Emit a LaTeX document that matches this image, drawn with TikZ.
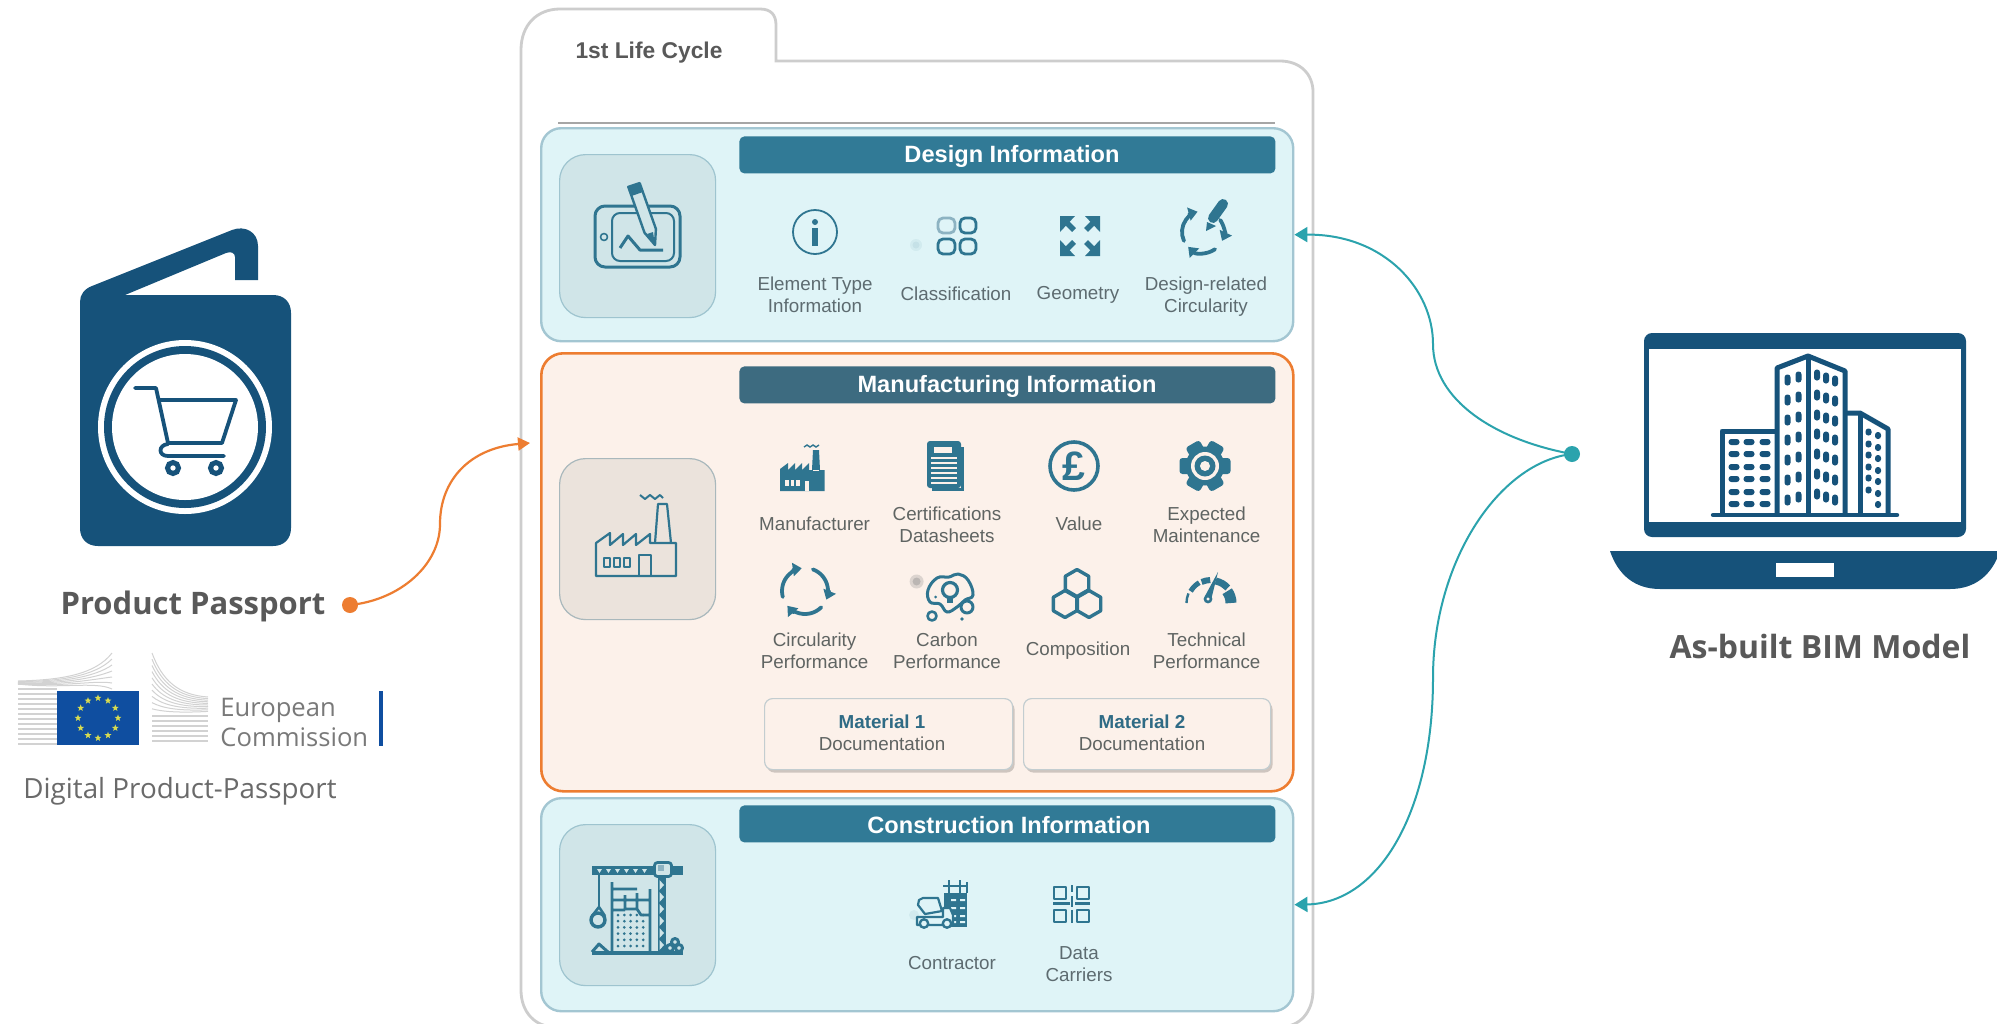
\documentclass[tikz,border=0pt]{standalone}
\usepackage{fontspec}
\setmainfont{Liberation Sans}
\newfontfamily\calfont{Carlito}
\newfontfamily\opfont{Open Sans}
\usetikzlibrary{arrows.meta,shadows,shapes.geometric}
\definecolor{pblue}{HTML}{16527A}
\definecolor{teal1}{HTML}{2F7590}
\definecolor{hdr}{HTML}{317A96}
\definecolor{hdrm}{HTML}{3D6B80}
\definecolor{panelb}{HTML}{DFF4F7}
\definecolor{panelbd}{HTML}{A3C6D2}
\definecolor{iconb}{HTML}{D0E5E8}
\definecolor{iconbd}{HTML}{9EC4CF}
\definecolor{orng}{HTML}{ED7D31}
\definecolor{panelo}{HTML}{FCF1EA}
\definecolor{icono}{HTML}{EBE3DC}
\definecolor{iconod}{HTML}{A9B8BC}
\definecolor{tealln}{HTML}{2BA3AD}
\definecolor{lab1}{HTML}{5D6B70}
\definecolor{lab2}{HTML}{5F6462}
\definecolor{gtxt}{HTML}{595959}
\definecolor{matt}{HTML}{2F6B85}
\definecolor{eublue}{HTML}{0F4EA0}
\definecolor{eustar}{HTML}{D8DC50}
\definecolor{eugray}{HTML}{D2D2D2}
\definecolor{frameg}{HTML}{CDCDCD}
\tikzset{
  panelB/.style={draw=panelbd,fill=panelb,line width=1.2pt,rounded corners=10pt},
  panelO/.style={draw=orng,fill=panelo,line width=1.3pt,rounded corners=11pt},
  iconB/.style={draw=iconbd,fill=iconb,line width=.6pt,rounded corners=13pt},
  iconO/.style={draw=iconod,fill=icono,line width=.6pt,rounded corners=13pt},
  hdrbox/.style={fill=#1,rounded corners=2.5pt},
  hdrtxt/.style={text=white,font=\fontsize{11.8}{13}\selectfont\bfseries},
  lab/.style={text=#1,font=\fontsize{9.4}{10.9}\selectfont,align=center,inner sep=0pt},
  matbox/.style={draw=iconod!70,fill=panelo,line width=.6pt,rounded corners=4pt,drop shadow={shadow xshift=1pt,shadow yshift=-1.5pt,opacity=.18,fill=black}},
  ic/.style={draw=teal1,line width=1pt,line join=round},
  tealarrow/.style={draw=tealln,line width=1pt,-{Triangle[length=6.5pt,width=7.5pt]}},
  orngarrow/.style={draw=orng,line width=1.1pt,-{Triangle[length=6pt,width=6.5pt]}},
  dotnode/.style={circle,fill=#1,inner sep=0pt,minimum size=8pt},
  bigtxt/.style={text=gtxt,font=\opfont\bfseries\fontsize{#1}{19}\selectfont,inner sep=0pt},
}
\newcommand{\pbox}[7]{\pgfmathsetmacro\pbw{(#4-#2)*0.5}\pgfmathsetmacro\pbh{(#5-#3)*0.5}\node[#6,anchor=north west,minimum width=\pbw pt,minimum height=\pbh pt,inner sep=0pt] (#1) at (#2,#3) {#7};}
\newcommand{\hexa}[3]{\draw[ic,line width=1.7pt,shift={(#1,#2)}] (30:#3) -- (90:#3) -- (150:#3) -- (210:#3) -- (270:#3) -- (330:#3) -- cycle;}
\newcommand{\rarc}[5]{\draw[ic,line width=1.9pt,line cap=round,-{Triangle[length=4.5pt,width=6.5pt]}] ([shift={(#3:#5)}]#1,#2) arc (#3:#4:#5);}
\begin{document}
\begin{tikzpicture}[x=0.5pt,y=-0.5pt]
\clip (0,0) rectangle (1997,1023);
\fill[white] (0,0) rectangle (1997,1023);

% ---------- outer frame
\draw[frameg,line width=1.4pt,fill=white] (521,990) -- (521,50) .. controls (521,25) and (537,9) .. (560,9) -- (760,9) .. controls (771,9) and (776,15) .. (776,25) -- (776,61) -- (1280,61) .. controls (1300,61) and (1313,74) .. (1313,92) -- (1313,990) .. controls (1313,1012) and (1300,1027) .. (1280,1027) -- (555,1027) .. controls (535,1027) and (521,1012) .. (521,990) -- cycle;
\node[text=gtxt,font=\fontsize{11.4}{13}\selectfont\bfseries,inner sep=0pt] (lc) at (649,52.5) {1st Life Cycle};
\draw[gray!70,line width=.7pt] (558,123) -- (1275,123);

% ---------- panels
\pbox{design}{540}{127}{1292}{340}{panelB}{}
\pbox{mfg}{540}{352}{1292}{790}{panelO}{}
\pbox{constr}{540}{797}{1292}{1010}{panelB}{}
\pbox{iconD}{559}{154}{715}{317}{iconB}{}
\pbox{iconM}{559}{458}{715}{619}{iconO}{}
\pbox{iconC}{559}{824}{715}{985}{iconB}{}
\pbox{hD}{739}{136}{1275}{173}{hdrbox=hdr}{}
\pbox{hM}{739}{366}{1275}{403}{hdrbox=hdrm}{}
\pbox{hC}{739}{805}{1275}{842}{hdrbox=hdr}{}
\node[hdrtxt] (tD) at (1012,156.5) {Design Information};
\node[hdrtxt] (tM) at (1007,386.5) {Manufacturing Information};
\node[hdrtxt] (tC) at (1009,825) {Construction Information};

% ---------- labels design
\node[lab=lab1] (l1) at (815,295) {Element Type\\Information};
\node[lab=lab1] (l2) at (956,294) {Classification};
\node[lab=lab1] (l3) at (1078,295) {Geometry};
\node[lab=lab1] (l4) at (1206,296.5) {Design-related\\Circularity};
% labels manufacturing
\node[lab=lab2] (m1) at (814.6,524) {Manufacturer};
\node[lab=lab2] (m2) at (947,525) {Certifications\\Datasheets};
\node[lab=lab2] (m3) at (1079,524) {Value};
\node[lab=lab2] (m4) at (1206.6,525) {Expected\\Maintenance};
\node[lab=lab2] (m5) at (814.6,651) {Circularity\\Performance};
\node[lab=lab2] (m6) at (947,651) {Carbon\\Performance};
\node[lab=lab2] (m7) at (1078,651) {Composition};
\node[lab=lab2] (m8) at (1206.6,651) {Technical\\Performance};
% material boxes
\pbox{mat1}{764}{698}{1012}{769}{matbox}{}
\pbox{mat2}{1023}{698}{1270}{769}{matbox}{}
\node[lab=lab2] (mt1) at (882,733) {\textcolor{matt}{\bfseries Material 1}\\Documentation};
\node[lab=lab2] (mt2) at (1142,733) {\textcolor{matt}{\bfseries Material 2}\\Documentation};
% labels construction
\node[lab=lab1] (c1) at (952,963) {Contractor};
\node[lab=lab1] (c2) at (1079,964) {Data\\Carriers};

% ---------- icon: tablet & pen
\draw[ic,line width=1.5pt,rounded corners=5pt] (595,206) rectangle (680,267);
\draw[ic,line width=1pt,rounded corners=4pt] (612,213) rectangle (674,261);
\draw[ic,line width=.8pt] (604,237) circle (3.5);
\draw[ic,line width=1.5pt] (620,248) -- (628,236) -- (640,250) -- (663,250);
\draw[ic,line width=1.2pt,fill=iconb] (655,245) -- (655.9,228.9) -- (639.7,183.1) -- (628.3,186.9) -- (644.5,232.7) -- cycle;
\fill[teal1] (655,245) -- (653,232) -- (647,234) -- cycle;
\fill[teal1] (639.7,183.1) -- (628.3,186.9) -- (631.5,196) -- (643,192) -- cycle;

% info
\draw[ic,line width=.9pt] (815,232) circle (22);
\fill[teal1] (815,222) circle (3);
\fill[teal1] (812,228) rectangle (818,246);
% classification
\draw[ic,draw=teal1!55,line width=1.4pt,rounded corners=2.5pt] (938,218) rectangle (955,233);
\draw[ic,line width=1.4pt,rounded corners=2.5pt] (960,218) rectangle (976,233);
\draw[ic,line width=1.4pt,rounded corners=2.5pt] (938,239) rectangle (955,254);
\draw[ic,line width=1.4pt,rounded corners=2.5pt] (960,239) rectangle (976,254);
\fill[teal1,opacity=.07] (916,245) circle (6);
\fill[teal1,opacity=.08] (916,245) circle (3.5);
% geometry
\foreach \sx/\sy in {1/1,-1/1,1/-1,-1/-1}{
\begin{scope}[shift={(1080,236)},xscale=\sx,yscale=\sy]
\fill[teal1] (20,20) -- (5,20) -- (20,4) -- cycle;
\draw[teal1,line width=2.8pt] (14,14) -- (6,6);
\end{scope}}
% design circularity
\rarc{1203}{232}{155}{255}{21}
\rarc{1203}{232}{-35}{25}{21}
\rarc{1203}{232}{55}{135}{21}
\draw[teal1,line width=5pt,line cap=round] (1213,218) -- (1223,204);
\fill[teal1] (1206,231) -- (1207,222) -- (1216,226) -- cycle;

% ---------- icon: big factory
\draw[ic,line width=1.1pt] (596,543) -- (610,533) -- (610,545) -- (623,534) -- (623,545) -- (636,534) -- (636,545) -- (650,534) -- (650,543) -- (676,543) -- (676,576) -- (596,576) -- cycle;
\draw[ic,line width=1.1pt] (655,543) -- (658,504) -- (667,504) -- (671,543);
\draw[ic,line width=1pt] (640,495) -- (645,499) -- (650,495) -- (655,499) -- (660,495) -- (663,498);
\foreach \x in {604,614,624}\draw[ic,line width=1pt] (\x,558) rectangle (\x+6,567);
\draw[ic,line width=1pt] (639,576) -- (639,555) -- (651,555) -- (651,576);

% small factory
\fill[teal1] (780,491) -- (780,469) -- (788,463) -- (788,470) -- (795,463) -- (795,470) -- (802,463) -- (802,470) -- (809,463) -- (809,470) -- (812,470) -- (813,450) -- (819,450) -- (820,470) -- (824.5,470) -- (824.5,491) -- cycle;
\draw[panelo,line width=.4pt] (813,470) -- (819,470);
\foreach \x in {785,790.5,796}\fill[panelo] (\x,480) rectangle (\x+3.5,486);
\fill[panelo] (805,481) rectangle (809,491);
\draw[teal1,line width=.7pt] (804,447) -- (807,445) -- (810,447) -- (813,445) -- (816,447) -- (819,445);

% doc
\fill[teal1] (932,447) rectangle (964,491);
\fill[panelo] (932,445) rectangle (961,487.5);
\fill[teal1,rounded corners=1.5pt] (927,441) rectangle (961,488);
\fill[panelo] (934,447) rectangle (952,453);
\foreach \y in {458,463,468,473,478,483}\draw[panelo,line width=.7pt] (931,\y) -- (957,\y);

% pound
\draw[ic,line width=1.8pt] (1074,466) circle (24);
\node[text=teal1,font=\fontsize{20.5}{22}\selectfont\bfseries,inner sep=0pt] (pound) at (1074,466) {£};

% gear
\fill[teal1] (1205,466) circle (19.5);
\foreach \a in {0,60,120}{
  \fill[teal1,rounded corners=1.5pt,rotate around={\a:(1205,466)}] (1179.5,458) rectangle (1230.5,474);
}
\fill[panelo] (1205,466) circle (14);
\fill[teal1] (1205,466) circle (10.5);
\fill[panelo] (1205,466) circle (5);

% circularity
\rarc{805}{591}{165}{262}{23}
\rarc{805}{591}{-70}{22}{23}
\rarc{805}{591}{45}{140}{23}

% carbon
\fill[gray,opacity=.25] (916.6,581.5) circle (7);
\fill[gray,opacity=.35] (916.6,581.5) circle (4);
\draw[ic,line width=1.5pt] plot[smooth cycle,tension=.7] coordinates {(937,578) (949,577) (958,574) (968,580) (973,595) (965,600) (957,607) (947,612) (940,604) (930,602) (928,590)};
\draw[ic,line width=1.6pt] (950,590) circle (7.5);
\fill[teal1] (947,598) rectangle (953,603);
\draw[ic,line width=1.5pt,fill=panelo] (967,607) circle (6);
\draw[ic,line width=1.3pt,fill=panelo] (932,616) circle (4.5);
\fill[teal1] (962,619) circle (1.8);
\fill[teal1] (935.5,597) circle (1.5);

% composition
\hexa{1077}{583}{13.5}
\hexa{1065}{604}{13.5}
\hexa{1089}{604}{13.5}

% gauge
\draw[teal1,line width=1.2pt] ([shift={(180:24.5)}]1211,603) arc (180:203:24.5);
\draw[teal1,line width=2.5pt] ([shift={(210:23.5)}]1211,603) arc (210:240:23.5);
\draw[teal1,line width=3pt] ([shift={(246:23)}]1211,603) arc (246:268:23);
\draw[teal1,line width=3.5pt] ([shift={(282:22.5)}]1211,603) arc (282:318:22.5);
\draw[teal1,line width=5.5pt] ([shift={(324:20)}]1211,603) arc (324:360:20);
\fill[teal1] (1205,596) -- (1218,572) -- (1211,600) -- cycle;
\draw[teal1,line width=1.3pt,fill=panelo] (1208,599) circle (3);

% ---------- icon: crane
\fill[teal1] (592,866) rectangle (683,875);
\foreach \x in {597,606,615,624,633,642}\fill[iconb] (\x,869) -- (\x+5,869) -- (\x+2.5,873) -- cycle;
\fill[teal1] (658,877) rectangle (666,952);
\foreach \y in {880,892,...,940}{
  \fill[iconb] (659.5,\y) -- (664,\y+5) -- (659.5,\y+10) -- cycle;
}
\draw[ic,line width=1.4pt,fill=iconb,rounded corners=1.5pt] (654.5,862.5) rectangle (671.5,876.5);
\fill[teal1!55] (658,865) rectangle (664,871);
\draw[ic,line width=1.3pt] (599,875) -- (599,907);
\draw[ic,line width=1.3pt] (599,907) -- (592,916) (599,907) -- (605,916);
\draw[ic,line width=1.7pt] (598,920) circle (7);
\draw[ic,line width=1.4pt] (612,952) -- (612,882) (612,889) -- (637,889) (612,900) -- (650,900) (650,952) -- (650,889) (625,895) -- (625,909) -- (637,909) -- (641,915) -- (650,915) (637,893) -- (637,909) (612,910) -- (625,910);
\foreach \y in {915,921.2,...,947}\foreach \x in {618,624.3,...,644}\fill[teal1] (\x,\y) circle (1.5);
\draw[ic,line width=1.6pt] (592,953) -- (683,953);
\draw[ic,line width=1.5pt] (592,952) -- (599,944) -- (608,952);
\draw[ic,line width=1.5pt] (675,942) circle (3.5);
\draw[ic,line width=1.5pt] (670,948) circle (3.5);
\draw[ic,line width=1.5pt] (679,948) circle (3.5);

% ---------- icon: truck
\fill[teal1] (944,893) rectangle (967,927);
\foreach \y in {899,907,915,921}\fill[panelb] (951,\y) rectangle (956,\y+2) (960,\y) rectangle (965,\y+2);
\draw[ic,line width=1.1pt] (949,880) -- (949,893) (960,880) -- (960,893) (967,882) -- (967,893) (943,886) -- (967,886);
\draw[ic,line width=1.1pt,fill=panelb] (919,900) -- (923,898) -- (938,898) -- (942,911) -- (925,914) -- (918,905) -- cycle;
\draw[ic,line width=1.1pt,fill=panelb] (917,917) -- (943,917) -- (943,908) -- (950,908) -- (953,915) -- (953,925) -- (917,925) -- cycle;
\draw[ic,line width=1.2pt,fill=panelb] (924,923.5) circle (4.2);
\draw[ic,line width=1.2pt,fill=panelb] (947,923.5) circle (4.2);
\fill[teal1,opacity=.08] (914,915) circle (5);

% ---------- icon: QR
\foreach \a/\b in {1054/887,1077/887,1054/910,1077/910}{
\draw[ic,line width=1.4pt] (\a,\b) rectangle (\a+12,\b+12);
}
\draw[ic,line width=1.4pt] (1072,885) -- (1072,892) (1072,896) -- (1072,907) (1075,903.5) -- (1090,903.5) (1053,903.5) -- (1070,903.5) (1072,910) -- (1072,923);

% ---------- passport icon
\fill[pblue] (80,302) .. controls (80,295) and (84,289) .. (92,286) -- (232,230) .. controls (245,225) and (258,232) .. (258,246) -- (258,280) -- (235,280) -- (235,257) .. controls (235,253) and (231,251) .. (226,253) -- (125,295) -- (273,295) .. controls (284,295) and (291,302) .. (291,313) -- (291,528) .. controls (291,539) and (284,546) .. (273,546) -- (98,546) .. controls (87,546) and (80,539) .. (80,528) -- cycle;
\fill[white] (185,427) circle (87);
\fill[pblue] (185,427) circle (81);
\fill[white] (185,427) circle (73);
\draw[pblue,line width=1.9pt,line join=round,line cap=round] (135,388) -- (156,388) -- (168,443) -- (222,443) -- (236,400) -- (159,400);
\draw[pblue,line width=1.9pt,line cap=round] (168,444) .. controls (158,445) and (158,456) .. (168,456) -- (224,456);
\draw[pblue,line width=2.5pt,fill=white] (173,468) circle (5.5);
\draw[pblue,line width=2.5pt,fill=white] (216,468) circle (5.5);
\node[bigtxt=15.5] (pp) at (193,606) {Product Passport};

% ---------- EU logo
\foreach \y in {684,689,...,745}\draw[eugray,line width=.7pt] (18,\y) -- (57,\y);
\foreach \k in {0,1,...,6}{
  \draw[eugray,line width=.5pt] (18,681+\k*0.5) .. controls (60,680+\k*1.5) and (95,675+\k) .. (112,653+\k*6);
}
\fill[eublue] (57,691) rectangle (139,745);
\foreach \i in {1,...,12}{
  \node[star,star points=5,star point ratio=2.4,fill=eustar,inner sep=0pt,minimum size=3.6pt] (st\i) at ({98+20*cos(\i*30)},{718+20*sin(\i*30)}) {};
}
\foreach \k in {0,1,...,9}{
  \draw[eugray,line width=.5pt] (152,653+\k*6.2) .. controls (162,680+\k*3.5) and (178,695+\k*2) .. (208,697+\k*1.6);
}
\foreach \y in {716,721,...,745}\draw[eugray,line width=.7pt] (152,\y) -- (208,\y);
\node[text=gray!95!black,font=\opfont\fontsize{12.8}{14}\selectfont,anchor=west,inner sep=0pt] (eu1) at (220,710) {European};
\node[text=gray!95!black,font=\opfont\fontsize{12.8}{14}\selectfont,anchor=west,inner sep=0pt] (eu2) at (220,737) {Commission};
\fill[eublue] (379,691) rectangle (383,746);
\node[text=gtxt!90,font=\opfont\fontsize{13.9}{18}\selectfont,anchor=west,inner sep=0pt] (dp) at (23,791) {Digital Product-Passport};

% ---------- laptop
\fill[pblue,rounded corners=4pt] (1644,333) rectangle (1966,537);
\fill[white] (1649,349) rectangle (1961,522);
\fill[pblue] (1610,551) -- (2000,551) .. controls (1992,575) and (1975,589) .. (1950,589) -- (1660,589) .. controls (1635,589) and (1618,575) .. (1610,551) -- cycle;
\fill[white] (1776,563) rectangle (1834,577);
% buildings
\draw[pblue,line width=2.5pt,line join=round] (1777,431) -- (1722,431) -- (1722,515);
\draw[pblue,line width=2.5pt,line join=round] (1777,515) -- (1777,368) -- (1808,356) -- (1845,371) -- (1845,515);
\draw[pblue,line width=2.5pt] (1808,356) -- (1808,515);
\draw[pblue,line width=2.5pt,line join=round] (1845,413) -- (1860,413) -- (1888,429) -- (1888,515);
\draw[pblue,line width=2.5pt] (1860,413) -- (1860,515);
\draw[pblue,line width=2.2pt,line cap=round] (1713,515) -- (1897,515);
\foreach \y in {442,454,467,479,492,504}\foreach \x in {1734,1749,1765}{
  \fill[pblue,rounded corners=1.4pt] (\x-5.5,\y-3) rectangle (\x+5.5,\y+3);
}
\foreach \y in {380,400,420,440,460,480,500}{
  \fill[pblue,rounded corners=1.4pt] (1784.5,\y-5.5) rectangle (1790.5,\y+5.5);
  \fill[pblue,rounded corners=1.4pt] (1795.5,\y-8.5) rectangle (1801.5,\y+2.5);
}
\foreach \y in {375,395,415,434,454,474,494}{
  \fill[pblue,rounded corners=1.4pt] (1814,\y-5.5) rectangle (1820,\y+5.5);
  \fill[pblue,rounded corners=1.4pt] (1823,\y-2.5) rectangle (1829,\y+8.5);
  \fill[pblue,rounded corners=1.4pt] (1832,\y+.5) rectangle (1838,\y+11.5);
}
\foreach \y in {432,444,455,467,478,490}{
  \fill[pblue,rounded corners=1.4pt] (1865.5,\y-3.5) rectangle (1871.5,\y+3.5);
  \fill[pblue,rounded corners=1.4pt] (1875,\y) rectangle (1881,\y+7);
}
\fill[pblue,rounded corners=1.4pt] (1875,501) rectangle (1881,508);
\node[bigtxt=16] (bim) at (1820,646) {As-built BIM Model};

% ---------- connectors
\node[dotnode=orng] (ppdot) at (350,605) {};
\node[dotnode=tealln] (bimdot) at (1572,454) {};
\coordinate (mfgin) at (530,443);
\coordinate (midA) at (440,524);
\coordinate (midB) at (1433,344);
\coordinate (midC) at (1433,678);
\draw[orngarrow] (ppdot.center) .. controls (400,600) and (440,565) .. (midA) .. controls (440,480) and (470,448) .. (mfgin);
\draw[tealarrow] (bimdot.center) .. controls (1495,440) and (1433,400) .. (midB) .. controls (1433,290) and (1385,234) .. (design.east);
\draw[tealarrow] (bimdot.center) .. controls (1500,462) and (1433,560) .. (midC) .. controls (1433,810) and (1380,903) .. (constr.east);
\end{tikzpicture}
\end{document}
